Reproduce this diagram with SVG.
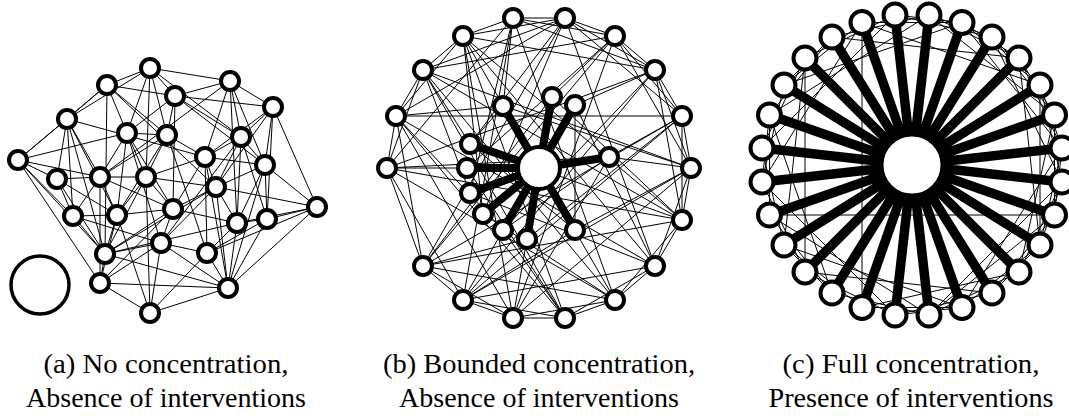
<svg xmlns="http://www.w3.org/2000/svg" width="1069" height="416" viewBox="0 0 1069 416">
<style>
.e{fill:none;stroke:#000;stroke-width:1}
.sb{fill:none;stroke:#000;stroke-width:8}
.sc{fill:none;stroke:#000;stroke-width:9.5}
.n{fill:#fff;stroke:#000;stroke-width:4}
.t{font-family:"Liberation Serif","Times New Roman",serif;font-size:27px;text-anchor:middle;fill:#000}
</style>
<rect width="1069" height="416" fill="#fff"/>
<g id="connectors">
<path class="e" d="M18 160L67 119M18 160L107 85M18 160L127 133M18 160L100 177M18 160L57 179M18 160L73 216M18 160L100 283M18 160L105 254M67 119L107 85M67 119L150 68M67 119L57 179M67 119L100 177M67 119L117 215M67 119L105 254M67 119L205 157M67 119L73 216M107 85L150 68M107 85L175 96M107 85L127 133M107 85L167 135M107 85L105 254M107 85L216 187M150 68L175 96M150 68L230 81M150 68L146 177M150 68L127 133M150 68L167 135M150 68L241 137M230 81L175 96M230 81L273 107M230 81L241 137M230 81L205 157M230 81L237 223M230 81L265 165M230 81L100 177M175 96L273 107M175 96L167 135M175 96L241 137M175 96L265 165M175 96L173 209M175 96L127 133M273 107L241 137M273 107L265 165M273 107L317 207M273 107L216 187M273 107L205 157M273 107L267 219M127 133L167 135M127 133L146 177M127 133L117 215M127 133L161 243M127 133L100 177M127 133L173 209M167 135L205 157M167 135L100 177M167 135L146 177M167 135L117 215M167 135L207 253M241 137L205 157M241 137L265 165M241 137L216 187M241 137L237 223M241 137L267 219M241 137L161 243M205 157L265 165M205 157L216 187M205 157L146 177M205 157L173 209M205 157L207 253M205 157L228 288M265 165L216 187M265 165L317 207M265 165L267 219M265 165L237 223M265 165L228 288M57 179L100 177M57 179L73 216M57 179L117 215M57 179L105 254M100 177L146 177M100 177L117 215M100 177L73 216M100 177L173 209M100 177L100 283M146 177L216 187M146 177L117 215M146 177L173 209M146 177L105 254M146 177L150 313M216 187L173 209M216 187L237 223M216 187L161 243M216 187L105 254M216 187L228 288M317 207L267 219M317 207L237 223M317 207L228 288M317 207L216 187M317 207L207 253M73 216L117 215M73 216L105 254M73 216L161 243M117 215L173 209M117 215L105 254M117 215L100 283M117 215L150 313M173 209L237 223M173 209L161 243M173 209L105 254M173 209L100 283M237 223L267 219M237 223L207 253M237 223L228 288M237 223L105 254M267 219L207 253M267 219L228 288M161 243L105 254M161 243L207 253M161 243L228 288M161 243L150 313M105 254L100 283M105 254L228 288M207 253L228 288M100 283L228 288M100 283L150 313M228 288L150 313M207 253L150 313M161 243L100 283"/>
<path class="e" d="M513 18L463 36M513 18L565 18M513 18L615 36M513 18L655 70M513 18L615 300M513 18L463 300M513 18L387 168M565 18L615 36M565 18L655 70M565 18L682 116M565 18L655 266M565 18L396 116M565 18L423 70M615 36L655 70M615 36L682 116M615 36L691 168M615 36L423 70M615 36L423 266M615 36L513 318M655 70L682 116M655 70L691 168M655 70L682 220M655 70L463 36M655 70L463 300M682 116L691 168M682 116L682 220M682 116L396 116M682 116L423 266M691 168L682 220M691 168L655 266M691 168L423 70M691 168L463 300M682 220L655 266M682 220L615 300M682 220L463 36M682 220L423 266M655 266L615 300M655 266L565 318M655 266L396 116M655 266L463 300M615 300L565 318M615 300L513 318M615 300L387 168M615 300L423 70M565 318L513 318M565 318L463 300M565 318L463 36M565 318L396 116M513 318L463 300M513 318L423 266M513 318L691 168M463 300L423 266M463 300L387 168M463 300L682 116M423 266L387 168M423 266L396 116M423 266L565 18M423 266L615 300M387 168L396 116M387 168L423 70M387 168L655 70M387 168L682 220M396 116L423 70M396 116L463 36M396 116L513 318M423 70L463 36M423 70L565 318M423 70L682 220M463 36L565 18M463 36L655 266M463 36L513 318"/>
<path class="e" d="M513 18L503 106M513 18L470 193M565 18L470 144M565 18L483 214M615 36L552 97M615 36L467 168M655 70L503 230M655 70L575 105M682 116L609 157M682 116L527 239M691 168L503 106M691 168L609 157M691 168L575 230M682 220L470 144M682 220L552 97M655 266L470 193M655 266L575 105M615 300L483 214M615 300L503 106M565 318L503 230M565 318L467 168M513 318L609 157M513 318L527 239M463 300L575 230M463 300L575 105M423 266L552 97M423 266L527 239M387 168L467 168M387 168L609 157M396 116L503 230M396 116L503 106M423 70L470 193M423 70L470 144M463 36L575 230M463 36L483 214M575 105L575 230M503 106L470 144M470 144L575 230M609 157L503 230"/>
<path class="e" d="M805 58L805 272M862 22.5L862 307.5M769.5 215L1054.5 215M929 15L992 37M929 15L1019 58M962 22.5L1040 85M962 22.5L1019 58M992 37L1054.5 115M992 37L1040 85M1019 58L1062 148M1019 58L1054.5 115M1040 85L1062 182M1040 85L1062 148M1054.5 115L1054.5 215M1062 148L1040 245M1062 148L1054.5 215M1062 182L1019 272M1062 182L1040 245M1054.5 215L992 293M1040 245L962 307.5M1040 245L992 293M1019 272L929 315M992 293L895 315M962 307.5L862 307.5M962 307.5L895 315M929 315L832 293M895 315L805 272M862 307.5L784 245M832 293L769.5 215M832 293L784 245M805 272L762 182M784 245L762 148M769.5 215L769.5 115M762 182L784 85M762 182L769.5 115M762 148L805 58M769.5 115L832 37M784 85L862 22.5M784 85L832 37M805 58L895 15M832 37L929 15M862 22.5L962 22.5M895 15L992 37M895 15L962 22.5M929 15L1054.5 115M992 37L1062 182M1040 85L1040 245M1062 148L962 307.5M1054.5 215L929 315M1019 272L862 307.5M962 307.5L784 245M895 315L762 182M832 293L769.5 115M784 245L805 58M762 182L862 22.5M769.5 115L929 15M832 37L1019 58M962 22.5L1062 148M1019 58L1040 245M1054.5 115L1019 272M992 293L805 272M929 315L769.5 215M762 148L895 15M784 85L962 22.5M862 22.5L1040 85M1062 182L929 315"/>
<path class="sb" d="M539 168L503 106M539 168L552 97M539 168L575 105M539 168L609 157M539 168L470 144M539 168L467 168M539 168L470 193M539 168L483 214M539 168L503 230M539 168L527 239M539 168L575 230"/>
<path class="sc" d="M912 165L929 15M912 165L962 22.5M912 165L992 37M912 165L1019 58M912 165L1040 85M912 165L1054.5 115M912 165L1062 148M912 165L1062 182M912 165L1054.5 215M912 165L1040 245M912 165L1019 272M912 165L992 293M912 165L962 307.5M912 165L929 315M912 165L895 315M912 165L862 307.5M912 165L832 293M912 165L805 272M912 165L784 245M912 165L769.5 215M912 165L762 182M912 165L762 148M912 165L769.5 115M912 165L784 85M912 165L805 58M912 165L832 37M912 165L862 22.5M912 165L895 15"/>
</g>
<g id="a-big"><circle class="n" cx="40" cy="285" r="29" style="stroke-width:3.5"/></g>
<g id="a1"><circle class="n" cx="150" cy="68" r="9"/></g>
<g id="a2"><circle class="n" cx="107" cy="85" r="9"/></g>
<g id="a3"><circle class="n" cx="230" cy="81" r="9"/></g>
<g id="a4"><circle class="n" cx="175" cy="96" r="9"/></g>
<g id="a5"><circle class="n" cx="273" cy="107" r="9"/></g>
<g id="a6"><circle class="n" cx="67" cy="119" r="9"/></g>
<g id="a7"><circle class="n" cx="127" cy="133" r="9"/></g>
<g id="a8"><circle class="n" cx="167" cy="135" r="9"/></g>
<g id="a9"><circle class="n" cx="241" cy="137" r="9"/></g>
<g id="a10"><circle class="n" cx="18" cy="160" r="9"/></g>
<g id="a11"><circle class="n" cx="205" cy="157" r="9"/></g>
<g id="a12"><circle class="n" cx="265" cy="165" r="9"/></g>
<g id="a13"><circle class="n" cx="57" cy="179" r="9"/></g>
<g id="a14"><circle class="n" cx="100" cy="177" r="9"/></g>
<g id="a15"><circle class="n" cx="146" cy="177" r="9"/></g>
<g id="a16"><circle class="n" cx="216" cy="187" r="9"/></g>
<g id="a17"><circle class="n" cx="317" cy="207" r="9"/></g>
<g id="a18"><circle class="n" cx="73" cy="216" r="9"/></g>
<g id="a19"><circle class="n" cx="117" cy="215" r="9"/></g>
<g id="a20"><circle class="n" cx="173" cy="209" r="9"/></g>
<g id="a21"><circle class="n" cx="237" cy="223" r="9"/></g>
<g id="a22"><circle class="n" cx="267" cy="219" r="9"/></g>
<g id="a23"><circle class="n" cx="161" cy="243" r="9"/></g>
<g id="a24"><circle class="n" cx="105" cy="254" r="9"/></g>
<g id="a25"><circle class="n" cx="207" cy="253" r="9"/></g>
<g id="a26"><circle class="n" cx="100" cy="283" r="9"/></g>
<g id="a27"><circle class="n" cx="228" cy="288" r="9"/></g>
<g id="a28"><circle class="n" cx="150" cy="313" r="9"/></g>
<g id="b-hub"><circle class="n" cx="539" cy="168" r="21"/></g>
<g id="b1"><circle class="n" cx="565" cy="18" r="9"/></g>
<g id="b2"><circle class="n" cx="615" cy="36" r="9"/></g>
<g id="b3"><circle class="n" cx="655" cy="70" r="9"/></g>
<g id="b4"><circle class="n" cx="682" cy="116" r="9"/></g>
<g id="b5"><circle class="n" cx="691" cy="168" r="9"/></g>
<g id="b6"><circle class="n" cx="682" cy="220" r="9"/></g>
<g id="b7"><circle class="n" cx="655" cy="266" r="9"/></g>
<g id="b8"><circle class="n" cx="615" cy="300" r="9"/></g>
<g id="b9"><circle class="n" cx="565" cy="318" r="9"/></g>
<g id="b10"><circle class="n" cx="513" cy="318" r="9"/></g>
<g id="b11"><circle class="n" cx="463" cy="300" r="9"/></g>
<g id="b12"><circle class="n" cx="423" cy="266" r="9"/></g>
<g id="b13"><circle class="n" cx="387" cy="168" r="9"/></g>
<g id="b14"><circle class="n" cx="396" cy="116" r="9"/></g>
<g id="b15"><circle class="n" cx="423" cy="70" r="9"/></g>
<g id="b16"><circle class="n" cx="463" cy="36" r="9"/></g>
<g id="b17"><circle class="n" cx="513" cy="18" r="9"/></g>
<g id="b18"><circle class="n" cx="503" cy="106" r="9"/></g>
<g id="b19"><circle class="n" cx="552" cy="97" r="9"/></g>
<g id="b20"><circle class="n" cx="575" cy="105" r="9"/></g>
<g id="b21"><circle class="n" cx="609" cy="157" r="9"/></g>
<g id="b22"><circle class="n" cx="470" cy="144" r="9"/></g>
<g id="b23"><circle class="n" cx="467" cy="168" r="9"/></g>
<g id="b24"><circle class="n" cx="470" cy="193" r="9"/></g>
<g id="b25"><circle class="n" cx="483" cy="214" r="9"/></g>
<g id="b26"><circle class="n" cx="503" cy="230" r="9"/></g>
<g id="b27"><circle class="n" cx="527" cy="239" r="9"/></g>
<g id="b28"><circle class="n" cx="575" cy="230" r="9"/></g>
<g id="c-hub"><circle class="n" cx="912" cy="165" r="30" style="stroke-width:3"/></g>
<g id="c1"><circle class="n" cx="929" cy="15" r="11.5"/></g>
<g id="c2"><circle class="n" cx="962" cy="22.5" r="11.5"/></g>
<g id="c3"><circle class="n" cx="992" cy="37" r="11.5"/></g>
<g id="c4"><circle class="n" cx="1019" cy="58" r="11.5"/></g>
<g id="c5"><circle class="n" cx="1040" cy="85" r="11.5"/></g>
<g id="c6"><circle class="n" cx="1054.5" cy="115" r="11.5"/></g>
<g id="c7"><circle class="n" cx="1062" cy="148" r="11.5"/></g>
<g id="c8"><circle class="n" cx="1062" cy="182" r="11.5"/></g>
<g id="c9"><circle class="n" cx="1054.5" cy="215" r="11.5"/></g>
<g id="c10"><circle class="n" cx="1040" cy="245" r="11.5"/></g>
<g id="c11"><circle class="n" cx="1019" cy="272" r="11.5"/></g>
<g id="c12"><circle class="n" cx="992" cy="293" r="11.5"/></g>
<g id="c13"><circle class="n" cx="962" cy="307.5" r="11.5"/></g>
<g id="c14"><circle class="n" cx="929" cy="315" r="11.5"/></g>
<g id="c15"><circle class="n" cx="895" cy="315" r="11.5"/></g>
<g id="c16"><circle class="n" cx="862" cy="307.5" r="11.5"/></g>
<g id="c17"><circle class="n" cx="832" cy="293" r="11.5"/></g>
<g id="c18"><circle class="n" cx="805" cy="272" r="11.5"/></g>
<g id="c19"><circle class="n" cx="784" cy="245" r="11.5"/></g>
<g id="c20"><circle class="n" cx="769.5" cy="215" r="11.5"/></g>
<g id="c21"><circle class="n" cx="762" cy="182" r="11.5"/></g>
<g id="c22"><circle class="n" cx="762" cy="148" r="11.5"/></g>
<g id="c23"><circle class="n" cx="769.5" cy="115" r="11.5"/></g>
<g id="c24"><circle class="n" cx="784" cy="85" r="11.5"/></g>
<g id="c25"><circle class="n" cx="805" cy="58" r="11.5"/></g>
<g id="c26"><circle class="n" cx="832" cy="37" r="11.5"/></g>
<g id="c27"><circle class="n" cx="862" cy="22.5" r="11.5"/></g>
<g id="c28"><circle class="n" cx="895" cy="15" r="11.5"/></g>
<g id="captions">
<text class="t" x="166" y="373" textLength="245" lengthAdjust="spacingAndGlyphs">(a) No concentration,</text>
<text class="t" x="166" y="407" textLength="280" lengthAdjust="spacingAndGlyphs">Absence of interventions</text>
<text class="t" x="539" y="373" textLength="312" lengthAdjust="spacingAndGlyphs">(b) Bounded concentration,</text>
<text class="t" x="539" y="407" textLength="280" lengthAdjust="spacingAndGlyphs">Absence of interventions</text>
<text class="t" x="911" y="373" textLength="257" lengthAdjust="spacingAndGlyphs">(c) Full concentration,</text>
<text class="t" x="911" y="407" textLength="285" lengthAdjust="spacingAndGlyphs">Presence of interventions</text>
</g>
</svg>
